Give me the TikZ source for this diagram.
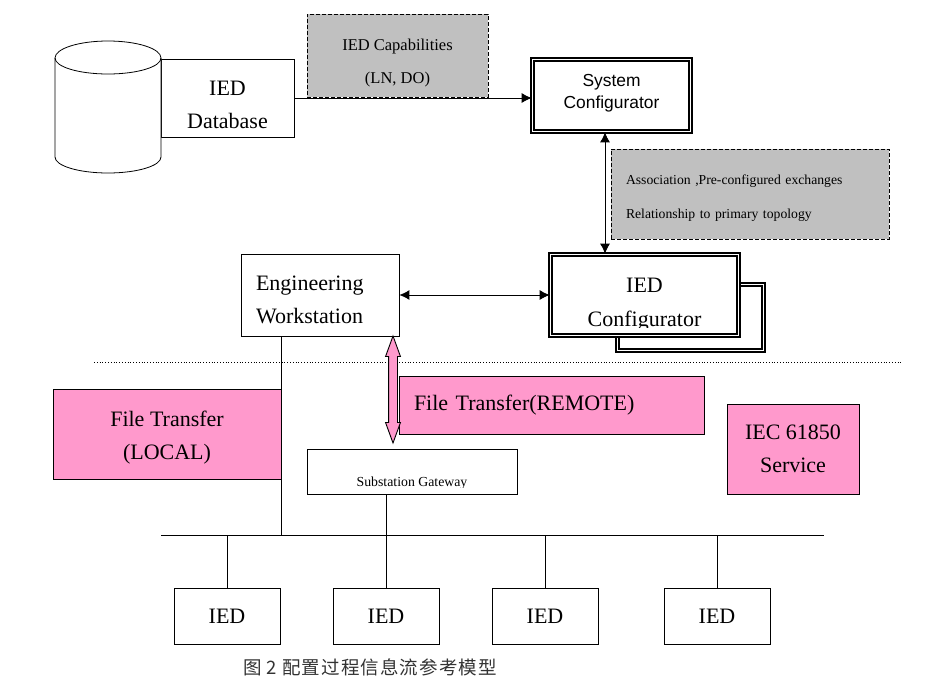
\documentclass[tikz,border=0pt]{standalone}
\usepackage{fontspec}
\setmainfont{Liberation Serif}
\newfontfamily\arialfont{Liberation Sans}
\newfontfamily\cjkfont[LetterSpace=6]{Noto Sans CJK SC}
\usetikzlibrary{arrows.meta}
\usetikzlibrary{shapes.arrows}
\definecolor{notegray}{HTML}{C0C0C0}
\definecolor{servicepink}{HTML}{FF99CC}
\newcommand{\fsize}[2]{\fontsize{#1}{#2}\selectfont}
\tikzstyle{box}=[draw, fill=white, line width=0.8pt, inner sep=0pt, align=center]
\tikzstyle{dbox}=[box, double, double distance=1.2pt, line width=1.6pt]
\tikzstyle{note}=[draw, fill=notegray, line width=0.8pt, dash pattern=on 4pt off 2pt, inner sep=0pt, align=center]
\tikzstyle{service}=[box, fill=servicepink]
\tikzstyle{txt}=[align=center, inner sep=0pt]
\tikzstyle{link}=[line width=0.9pt]
\tikzstyle{biarrow}=[link, {Latex[length=10pt,width=10pt]}-{Latex[length=10pt,width=10pt]}]
\begin{document}
\begin{tikzpicture}[x=1pt, y=-1pt]
    \useasboundingbox (0, 0) rectangle (931, 691);
    % top row
    \node[box, minimum width=133pt, minimum height=78pt, label={[txt, yshift=-7pt, font=\fsize{22}{33}]center:IED\\Database}] (dbase) at (227.5, 98) {};
    \draw[fill=white, line width=0.8pt] (55, 58) -- (55, 157) arc[start angle=180, end angle=360, x radius=53pt, y radius=16pt] -- (161, 58) arc[start angle=0, end angle=180, x radius=53pt, y radius=17pt];
    \draw[line width=0.8pt] (55, 58) arc[start angle=180, end angle=360, x radius=53pt, y radius=16pt];
    \node[note, minimum width=181pt, minimum height=83pt, label={[txt, yshift=-8pt, font=\fsize{16.5}{33}]center:IED Capabilities\\(LN, DO)}] (caps) at (397.5, 55.5) {};
    \node[dbox, minimum width=158pt, minimum height=72pt, label={[txt, yshift=2.5pt, font=\arialfont\fsize{17.4}{21.5}]center:System\\Configurator}] (sysconf) at (611.5, 95.5) {};
    \draw[link, -{Latex[length=10pt,width=10pt]}] (dbase) -- (sysconf.west |- dbase);
    % configurator
    \node[note, minimum width=278pt, minimum height=90pt, label={[txt, yshift=-4.5pt, text width=248pt, align=left, font=\fsize{13.7}{34}]center:Association ,Pre-configured exchanges\\Relationship to primary topology}] (assoc) at (750, 194) {};
    \node[dbox, minimum width=146pt, minimum height=66pt] (iedconfback) at (690.5, 317.5) {};
    \node[dbox, minimum width=188pt, minimum height=81pt] (iedconf) at (644.5, 295) {};
    \begin{scope}
        \clip (548, 260) rectangle (741, 327);
        \node[txt, font=\fsize{22}{34}] (iedconftext) at (644.5, 305) {IED\\Configurator};
    \end{scope}
    \draw[biarrow] ([xshift=-6.5pt]sysconf.south) -- ([xshift=-39.5pt]iedconf.north);
    % workstation
    \node[box, minimum width=158pt, minimum height=82pt, inner xsep=15pt, label={[txt, yshift=-4.5pt, text width=128pt, align=left, font=\fsize{22}{33}]center:Engineering\\Workstation}] (station) at (320, 295) {};
    \draw[biarrow] (station) -- (iedconf.west |- station);
    \coordinate (dotl) at (94, 362);
    \coordinate (dotr) at (902, 362);
    \draw[dotted, line width=0.8pt] (dotl) -- (dotr);
    % services
    \node[service, minimum width=228pt, minimum height=90pt, label={[txt, yshift=-3.5pt, font=\fsize{22}{33}]center:File Transfer\\(LOCAL)}] (local) at (167, 434) {};
    \node[service, minimum width=305pt, minimum height=58pt, inner xsep=15pt, text width=275pt, align=left, font=\fsize{22}{26}] (remote) at (551.5, 405) {File Transfer(REMOTE)};
    \node[service, minimum width=132pt, minimum height=90pt, font=\fsize{22}{33}] (iec) at (793, 449) {IEC 61850\\Service};
    \node[double arrow, draw, fill=servicepink, line width=0.9pt, rotate=90, inner xsep=0pt, inner ysep=4pt, minimum height=107pt, double arrow head extend=3pt, double arrow tip angle=40] (transfer) at (393, 389.5) {};
    % gateway
    \node[box, minimum width=210pt, minimum height=45pt] (gateway) at (412, 471.5) {};
    \begin{scope}
        \clip (307, 470) rectangle (517, 487.5);
        \node[txt, font=\fsize{13.8}{16}] (gatewaytext) at (412, 483.5) {Substation Gateway};
    \end{scope}
    % bus and IEDs
    \coordinate (busl) at (161, 535);
    \coordinate (busr) at (824, 535);
    \draw[link] (busl) -- (busr);
    \coordinate (stationtap) at (281, 336);
    \draw[link] (stationtap) -- (stationtap |- busl);
    \foreach \i/\x in {1/227, 2/386, 3/545, 4/717} {
        \node[box, minimum width=106pt, minimum height=56pt, font=\fsize{22}{26}] (ied\i) at (\x, 616) {IED};
        \draw[link] (ied\i.north) -- (ied\i.north |- busl);
    }
    \draw[link] (ied2 |- gateway.south) -- (ied2 |- busl);
    % caption
    \node[text=black!80, font=\fsize{18.5}{22}] (caption) at (370, 667) {\cjkfont 图 2 配置过程信息流参考模型};
\end{tikzpicture}
\end{document}
